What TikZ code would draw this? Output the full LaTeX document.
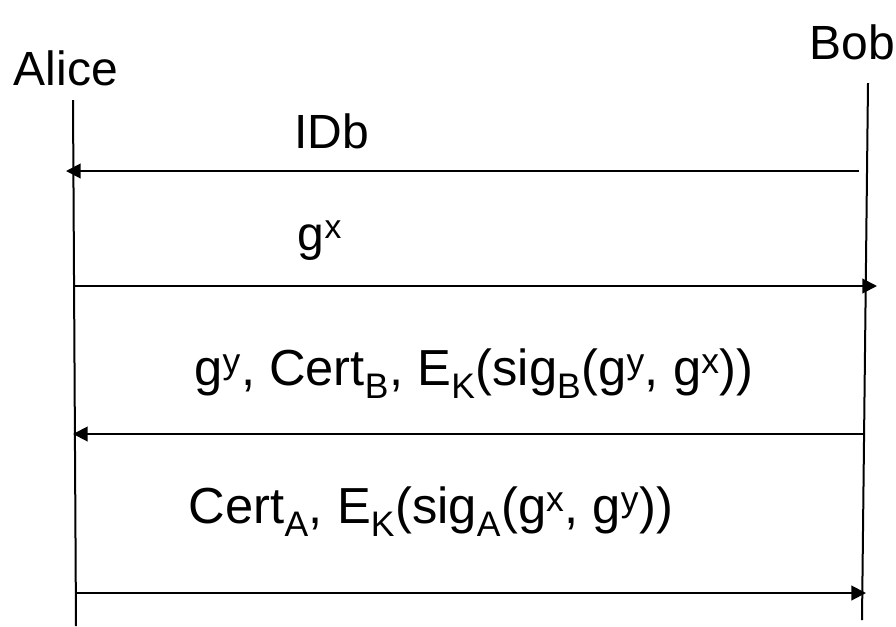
\documentclass[tikz,border=0pt]{standalone}
\usepackage{fontspec}
\setmainfont{Liberation Sans}
\usetikzlibrary{arrows.meta}

\begin{document}
\begin{tikzpicture}[x=0.75pt,y=-0.75pt,line width=1.5pt,
    msg/.style={-{Triangle[length=11pt,width=11pt]}},
    lbl/.style={font=\fontsize{36}{40}\selectfont, inner sep=0pt},
    biglbl/.style={font=\fontsize{38}{42}\selectfont, inner sep=0pt}]
  \useasboundingbox (0,0) rectangle (896,626);
  % parties
  \node[lbl] (alice) at (66,68) {Alice};
  \node[lbl] (bob) at (852,42) {Bob};

  % lifelines
  \coordinate (Atop) at (73,100);
  \coordinate (Abot) at (76,626);
  \coordinate (Btop) at (868,83);
  \coordinate (Bbot) at (862,620);
  \draw (Atop) -- (Abot);
  \draw (Btop) -- (Bbot);

  % messages
  \coordinate (m1s) at (859,171);
  \coordinate (m1e) at (66,171);
  \coordinate (m2s) at (73,286);
  \coordinate (m2e) at (877,286);
  \coordinate (m3s) at (865,434);
  \coordinate (m3e) at (73,434);
  \coordinate (m4s) at (76,593);
  \coordinate (m4e) at (866,593);

  \path (m1s) edge[msg] (m1e);
  \path (m2s) edge[msg] (m2e);
  \path (m3s) edge[msg] (m3e);
  \path (m4s) edge[msg] (m4e);

  \node[lbl] (idb) at (332,131) {IDb};
  \node[lbl] (gx) at (320,241) {g\textsuperscript{x}};
  \node[biglbl] (resp) at (474,374) {g\textsuperscript{y}, Cert\textsubscript{B}, E\textsubscript{K}(sig\textsubscript{B}(g\textsuperscript{y}, g\textsuperscript{x}))};
  \node[biglbl] (fin) at (431,512) {Cert\textsubscript{A}, E\textsubscript{K}(sig\textsubscript{A}(g\textsuperscript{x}, g\textsuperscript{y}))};
\end{tikzpicture}
\end{document}
